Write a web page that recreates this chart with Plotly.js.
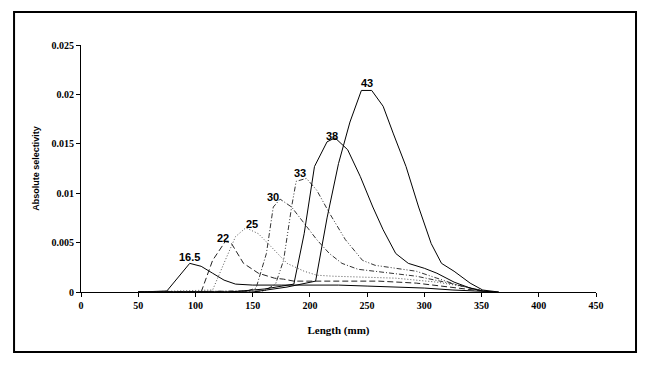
<!DOCTYPE html>
<html><head><meta charset="utf-8">
<script src="https://cdn.plot.ly/plotly-3.0.1.min.js"></script>
<style>body{margin:0;background:#fff}#chart{width:650px;height:366px}</style>
</head><body><div id="chart"></div>
<script>
// Mesh size labels
const meshLabels = ["16.5","22","25","30","33","38","43"];
// Length (mm) and absolute selectivity per mesh size
const x165 = [50,75,95,105,115,125,135,150,175,200,225,250,275,300,325,350,365];
const y165 = [0,0.0001,0.0029,0.0026,0.0019,0.0012,0.0008,0.0007,0.0007,0.0007,0.0007,0.0006,0.0005,0.0004,0.0002,0.0001,0];
const x22 = [50,105,115,126,131,142,155,169,177,186,220,260,293,329,358];
const y22 = [0,0,0.0032,0.0051,0.005,0.0029,0.0019,0.0014,0.0013,0.0011,0.0011,0.0011,0.0009,0.0004,0];
const x25 = [50,115,126,135,144,155,166,180,195,206,220,242,275,311,337,358];
const y25 = [0,0.0002,0.0032,0.0056,0.0065,0.0059,0.0046,0.0029,0.0021,0.0017,0.0016,0.0015,0.0014,0.001,0.0005,0];
const x30 = [50,145,153,162,168,174,184,195,206,217,228,242,257,275,293,322,351,360];
const y30 = [0,0.0001,0.0004,0.0039,0.0086,0.0094,0.0086,0.0069,0.0053,0.0039,0.0029,0.0023,0.0021,0.0018,0.0016,0.0009,0.0001,0];
const x33 = [50,160,170,177,184,188,197,206,217,231,246,257,275,293,311,329,351,362];
const y33 = [0,0.0001,0.0008,0.0032,0.0086,0.0112,0.0115,0.0103,0.008,0.0053,0.0032,0.0027,0.0024,0.0021,0.0014,0.0007,0.0001,0];
const x38 = [50,130,160,186,195,204,215,222,233,244,255,264,275,286,300,311,326,340,351,360];
const y38 = [0,0,0.0003,0.0008,0.0059,0.0127,0.0152,0.0156,0.0144,0.0117,0.0086,0.0063,0.0039,0.0029,0.0024,0.0019,0.001,0.0004,0.0001,0];
const x43 = [50,150,180,205,215,225,235,245,254,264,273,284,295,306,315,326,340,351,365];
const y43 = [0,0,0.0005,0.0011,0.0075,0.013,0.0172,0.0204,0.0204,0.0188,0.016,0.0127,0.0086,0.0049,0.0029,0.0021,0.0009,0.0002,0];
// Label positions (mm, selectivity)
const labelX = [95.2,124,149.4,167.8,191.3,219.7,249.9];
const labelY = [0.0035,0.0055,0.0069,0.0096,0.0120,0.0158,0.0212];

const xs=[x165,x22,x25,x30,x33,x38,x43];
const ys=[y165,y22,y25,y30,y33,y38,y43];
const dashes=["solid","6px,3px","1px,2px","5px,2px,1px,2px","5px,2px,1px,2px,1px,2px","solid","solid"];
const colors=["#000","#222","#555","#333","#333","#000","#000"];
const traces=xs.map((x,i)=>({x:x,y:ys[i],type:"scatter",mode:"lines",name:meshLabels[i],
  line:{color:colors[i],width:1,dash:dashes[i]},hoverinfo:"skip"}));

const annotations=meshLabels.map((t,i)=>({x:labelX[i],y:labelY[i],text:"<b>"+t+"</b>",showarrow:false,
  xanchor:"center",yanchor:"middle",font:{family:"Liberation Sans, Arial, sans-serif",size:11,color:"#000"}}));

const tf={family:"Liberation Serif, Times New Roman, serif",size:10,weight:"bold",color:"#000"};
const layout={
  width:650,height:366,
  margin:{l:81,r:54,t:45,b:74},
  paper_bgcolor:"#fff",plot_bgcolor:"#fff",
  showlegend:false,
  font:{family:"Liberation Serif, Times New Roman, serif",size:10,color:"#000"},
  xaxis:{range:[0,450],dtick:50,tick0:0,showgrid:false,zeroline:false,showline:true,linecolor:"#000",linewidth:1,
    ticks:"outside",ticklen:4,tickcolor:"#000",tickfont:tf,
    title:{text:"<b>Length (mm)</b>",font:{family:"Liberation Serif, serif",size:11},standoff:16}},
  yaxis:{range:[0,0.025],dtick:0.005,tick0:0,showgrid:false,zeroline:false,showline:true,linecolor:"#000",linewidth:1,
    ticks:"outside",ticklen:4,tickcolor:"#000",tickfont:tf,
    title:{text:"<b>Absolute selectivity</b>",font:{family:"Liberation Sans, Arial, sans-serif",size:9},standoff:10}},
  annotations:annotations,
  shapes:[{type:"rect",xref:"paper",yref:"paper",x0:-0.130,x1:1.0777,y0:-0.2429,y1:1.1336,line:{color:"#000",width:2}}]
};
Plotly.newPlot("chart",traces,layout,{staticPlot:true,displayModeBar:false});
</script></body></html>
